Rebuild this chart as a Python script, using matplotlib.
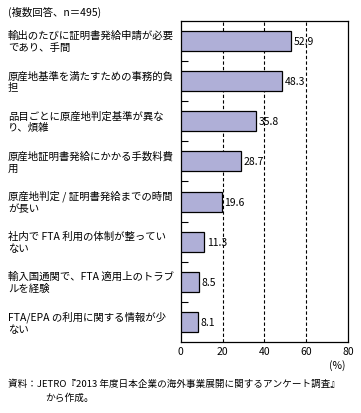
import matplotlib.pyplot as plt
import matplotlib.transforms as mtransforms

plt.rcParams['font.family'] = ['Noto Sans CJK JP', 'DejaVu Sans']

# データ
labels = ['輸出のたびに証明書発給申請が必要\nであり、手間',
          '原産地基準を満たすための事務的負\n担',
          '品目ごとに原産地判定基準が異な\nり、煩雑',
          '原産地証明書発給にかかる手数料費\n用',
          '原産地判定 / 証明書発給までの時間\nが長い',
          '社内で FTA 利用の体制が整ってい\nない',
          '輸入国通関で、FTA 適用上のトラブ\nルを経験',
          'FTA/EPA の利用に関する情報が少\nない']
values = [52.9, 48.3, 35.8, 28.7, 19.6, 11.3, 8.5, 8.1]
xticks = [0, 20, 40, 60, 80]

fig = plt.figure(figsize=(3.61, 4.14), dpi=100)
ax = fig.add_axes([0.501, 0.1715, 0.463, 0.7754])

y = list(range(len(values)))
ax.barh(y, values, height=0.5, color='#afafd7', edgecolor='black', linewidth=0.9, zorder=3)
for yi, v in zip(y, values):
    ax.text(v + 1.3, yi, f'{v:.1f}', va='center', ha='left', fontsize=7.5, zorder=4)

for g in [20, 40, 60]:
    ax.axvline(g, color='black', linestyle=(0, (3, 2)), linewidth=0.8, zorder=1)

ax.set_xlim(0, 80)
ax.set_ylim(len(values) - 0.5, -0.5)
ax.set_xticks(xticks)
ax.set_xticklabels([str(t) for t in xticks], fontsize=7.5)
ax.tick_params(axis='x', length=0, pad=3)
ax.set_yticks([i + 0.5 for i in range(len(values) - 1)])
ax.set_yticklabels([])
ax.tick_params(axis='y', direction='in', length=5, width=0.8)
for s in ax.spines.values():
    s.set_linewidth(0.9)

trans = mtransforms.blended_transform_factory(fig.transFigure, ax.transData)
for yi, lab in zip(y, labels):
    ax.text(8 / 361, yi, lab, transform=trans, ha='left', va='center',
            fontsize=7.5, linespacing=1.25, clip_on=False)

fig.text(8 / 361, 1 - 12 / 414, '(複数回答、n＝495)', ha='left', va='center', fontsize=7.5)
fig.text(337 / 361, 1 - 366 / 414, '(%)', ha='center', va='center', fontsize=7.5)
fig.text(8 / 361, 1 - 384 / 414, '資料：JETRO『2013 年度日本企業の海外事業展開に関するアンケート調査』',
         ha='left', va='center', fontsize=6.9)
fig.text(45 / 361, 1 - 398 / 414, 'から作成。', ha='left', va='center', fontsize=7.0)

fig.savefig('out.png', dpi=100)
